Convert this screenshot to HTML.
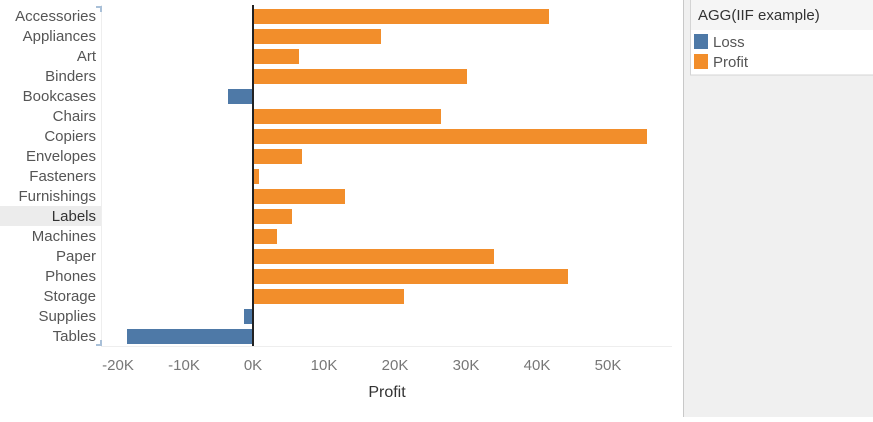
<!DOCTYPE html><html><head><style>body{margin:0;width:873px;height:417px;overflow:hidden;background:#fff;font-family:"Liberation Sans",sans-serif}</style></head><body>
<svg width="873" height="417" xmlns="http://www.w3.org/2000/svg" font-family="Liberation Sans, sans-serif">
<rect x="683" y="0" width="190" height="417" fill="#f0f0f0"/>
<line x1="683.5" y1="0" x2="683.5" y2="417" stroke="#c8c8c8"/>
<rect x="690.5" y="-1" width="190" height="76" fill="#fff" stroke="#d4d4d4"/>
<rect x="691" y="0" width="182" height="30" fill="#f5f5f5"/>
<text x="698" y="20" font-size="15" fill="#333">AGG(IIF example)</text>
<rect x="694" y="34" width="14" height="15" fill="#4e79a7"/>
<text x="713" y="47" font-size="15" fill="#555">Loss</text>
<rect x="694" y="54" width="14" height="15" fill="#f28e2b"/>
<text x="713" y="67" font-size="15" fill="#555">Profit</text>
<rect x="0" y="206" width="101" height="20" fill="#ececec"/>
<line x1="101.5" y1="5" x2="101.5" y2="346" stroke="#eee"/>
<line x1="101" y1="346.5" x2="672" y2="346.5" stroke="#eee"/>
<path d="M96 7h5v5" fill="none" stroke="#a9c0d8" stroke-width="2"/>
<path d="M96 345h5v-5" fill="none" stroke="#a9c0d8" stroke-width="2"/>
<g font-size="15" fill="#555" text-anchor="end">
<text x="96" y="21">Accessories</text><text x="96" y="41">Appliances</text><text x="96" y="61">Art</text><text x="96" y="81">Binders</text><text x="96" y="101">Bookcases</text><text x="96" y="121">Chairs</text><text x="96" y="141">Copiers</text><text x="96" y="161">Envelopes</text><text x="96" y="181">Fasteners</text><text x="96" y="201">Furnishings</text><text x="96" y="221" fill="#333">Labels</text><text x="96" y="241">Machines</text><text x="96" y="261">Paper</text><text x="96" y="281">Phones</text><text x="96" y="301">Storage</text><text x="96" y="321">Supplies</text><text x="96" y="341">Tables</text>
</g>
<g fill="#f28e2b">
<rect x="253" y="9" width="296" height="15"/><rect x="253" y="29" width="128" height="15"/><rect x="253" y="49" width="46" height="15"/><rect x="253" y="69" width="214" height="15"/>
<rect x="253" y="109" width="188" height="15"/><rect x="253" y="129" width="394" height="15"/><rect x="253" y="149" width="49" height="15"/><rect x="253" y="169" width="6" height="15"/><rect x="253" y="189" width="92" height="15"/><rect x="253" y="209" width="39" height="15"/><rect x="253" y="229" width="24" height="15"/><rect x="253" y="249" width="241" height="15"/><rect x="253" y="269" width="315" height="15"/><rect x="253" y="289" width="151" height="15"/>
</g>
<g fill="#4e79a7"><rect x="228" y="89" width="25" height="15"/><rect x="244" y="309" width="9" height="15"/><rect x="127" y="329" width="126" height="15"/></g>
<line x1="253" y1="5" x2="253" y2="346" stroke="#222" stroke-width="2"/>
<g font-size="15" fill="#777" text-anchor="middle">
<text x="118" y="370">-20K</text><text x="184" y="370">-10K</text><text x="253" y="370">0K</text><text x="324" y="370">10K</text><text x="395" y="370">20K</text><text x="466" y="370">30K</text><text x="537" y="370">40K</text><text x="608" y="370">50K</text>
</g>
<text x="387" y="397" font-size="16" fill="#333" text-anchor="middle">Profit</text>
</svg></body></html>
